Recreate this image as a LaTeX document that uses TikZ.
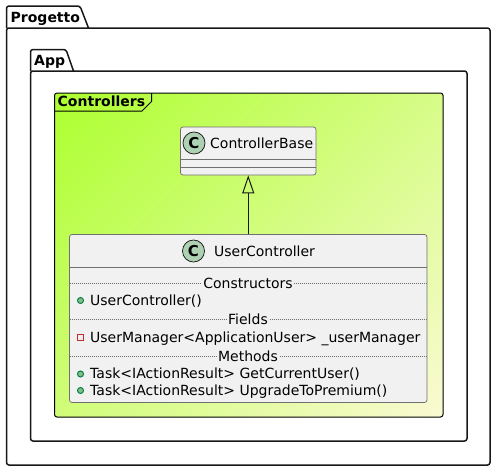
\documentclass[tikz,border=0pt]{standalone}
\usepackage{fontspec}
\setmainfont{DejaVu Sans}
\usetikzlibrary{arrows.meta,shadings}
\definecolor{lineK}{HTML}{181818}
\definecolor{sepK}{HTML}{707070}
\definecolor{classBg}{HTML}{F1F1F1}
\definecolor{circBg}{HTML}{ADD1B2}
\definecolor{gyA}{HTML}{ADFF2F}
\definecolor{gyB}{HTML}{FAFAD2}
\definecolor{pubFill}{HTML}{84BE84}
\definecolor{pubLine}{HTML}{038048}
\definecolor{privLine}{HTML}{C82930}
\pgfdeclareverticalshading{gydiag}{100bp}{color(0bp)=(gyB); color(14.65bp)=(gyB); color(85.35bp)=(gyA); color(100bp)=(gyA)}
\tikzset{
  x=1pt,y=-1pt,
  pkg/.style={draw=lineK,line width=1.5pt,rounded corners=2.5pt},
  pkgtitle/.style={font=\bfseries\fontsize{14}{16}\selectfont,anchor=base west,inner sep=0pt,text=black},
  classbox/.style={draw=sepK,line width=0.75pt,fill=classBg,rounded corners=2.5pt,inner sep=0pt},
  classname/.style={font=\fontsize{14}{16}\selectfont,anchor=base west,inner sep=0pt,text=black},
  member/.style={classname},
  sect/.style={font=\fontsize{14}{16}\selectfont,anchor=base,inner sep=1pt,fill=classBg,text=black},
  sep/.style={draw=sepK,line width=0.75pt},
  dotsep/.style={draw=sepK,line width=0.6pt,dash pattern=on 1pt off 1pt},
  spot/.style={circle,draw=lineK,line width=0.75pt,fill=circBg,minimum size=22pt,inner sep=0pt,font=\bfseries\fontsize{15}{16}\selectfont},
  pub/.style={circle,draw=pubLine,line width=1pt,fill=pubFill,minimum size=6pt,inner sep=0pt},
  priv/.style={rectangle,draw=privLine,line width=1pt,minimum size=6pt,inner sep=0pt},
  inherit/.style={draw=lineK,line width=1pt,-{Triangle[open,length=18pt,width=12pt,line width=1pt]}}
}
\begin{document}
\begin{tikzpicture}
\useasboundingbox (0,0) rectangle (496,471);
% Progetto
\draw[pkg] (6.5,28) -- (6.5,6) -- (80,6) -- (88.5,28) (6.5,28) -- (490,28) -- (490,465) -- (6.5,465) -- cycle;
\node[pkgtitle] (tProgetto) at (10.5,22) {Progetto};
% App
\draw[pkg] (30.5,71) -- (30.5,49.5) -- (66,49.5) -- (73.5,71) (30.5,71) -- (467,71) -- (467,441) -- (30.5,441) -- cycle;
\node[pkgtitle] (tApp) at (34,65) {App};
% Controllers frame
\shade[rounded corners=2.5pt,shading=gydiag,shading angle=45]
  (54.5,93) rectangle (443,417);
\draw[draw=black,line width=1pt,rounded corners=2.5pt] (54.5,93) rectangle (443,417);
\draw[draw=black,line width=1pt] (54.5,111) -- (142,111) -- (151.5,101.5) -- (151.5,93);
\node[pkgtitle] (tCtl) at (57.5,106) {Controllers};
% ControllerBase
\node[classbox,minimum width=135.5pt,minimum height=48pt] (cb) at (248.25,151) {};
\draw[sep] (180.5,159.5) -- (316,159.5) (180.5,167) -- (316,167);
\node[spot] (cbSpot) at (194,143) {C};
\node[classname] (cbName) at (210,148) {ControllerBase};
% UserController
\node[classbox,minimum width=357.5pt,minimum height=168pt] (uc) at (248.25,318.5) {};
\draw[sep] (69.5,267) -- (427,267);
\node[spot] (ucSpot) at (193.5,251) {C};
\node[classname] (ucName) at (214,256) {UserController};
\draw[dotsep] (69.5,283) -- (427,283) (69.5,319.5) -- (427,319.5) (69.5,356) -- (427,356);
\node[sect] (sCtor) at (248,288) {Constructors};
\node[sect] (sFields) at (248,324.5) {Fields};
\node[sect] (sMeth) at (248,361) {Methods};
\node[pub] (m1) at (80.5,300.5) {};
\node[member] (m1t) at (90,305) {UserController()};
\node[priv] (m2) at (80.5,337.5) {};
\node[member] (m2t) at (90,342) {UserManager<ApplicationUser> \_userManager};
\node[pub] (m3) at (80.5,374) {};
\node[member] (m3t) at (90,378) {Task<IActionResult> GetCurrentUser()};
\node[pub] (m4) at (80.5,390.5) {};
\node[member] (m4t) at (90,395) {Task<IActionResult> UpgradeToPremium()};
% inheritance
\draw[inherit] (uc.north) -- (cb.south);
\end{tikzpicture}
\end{document}
